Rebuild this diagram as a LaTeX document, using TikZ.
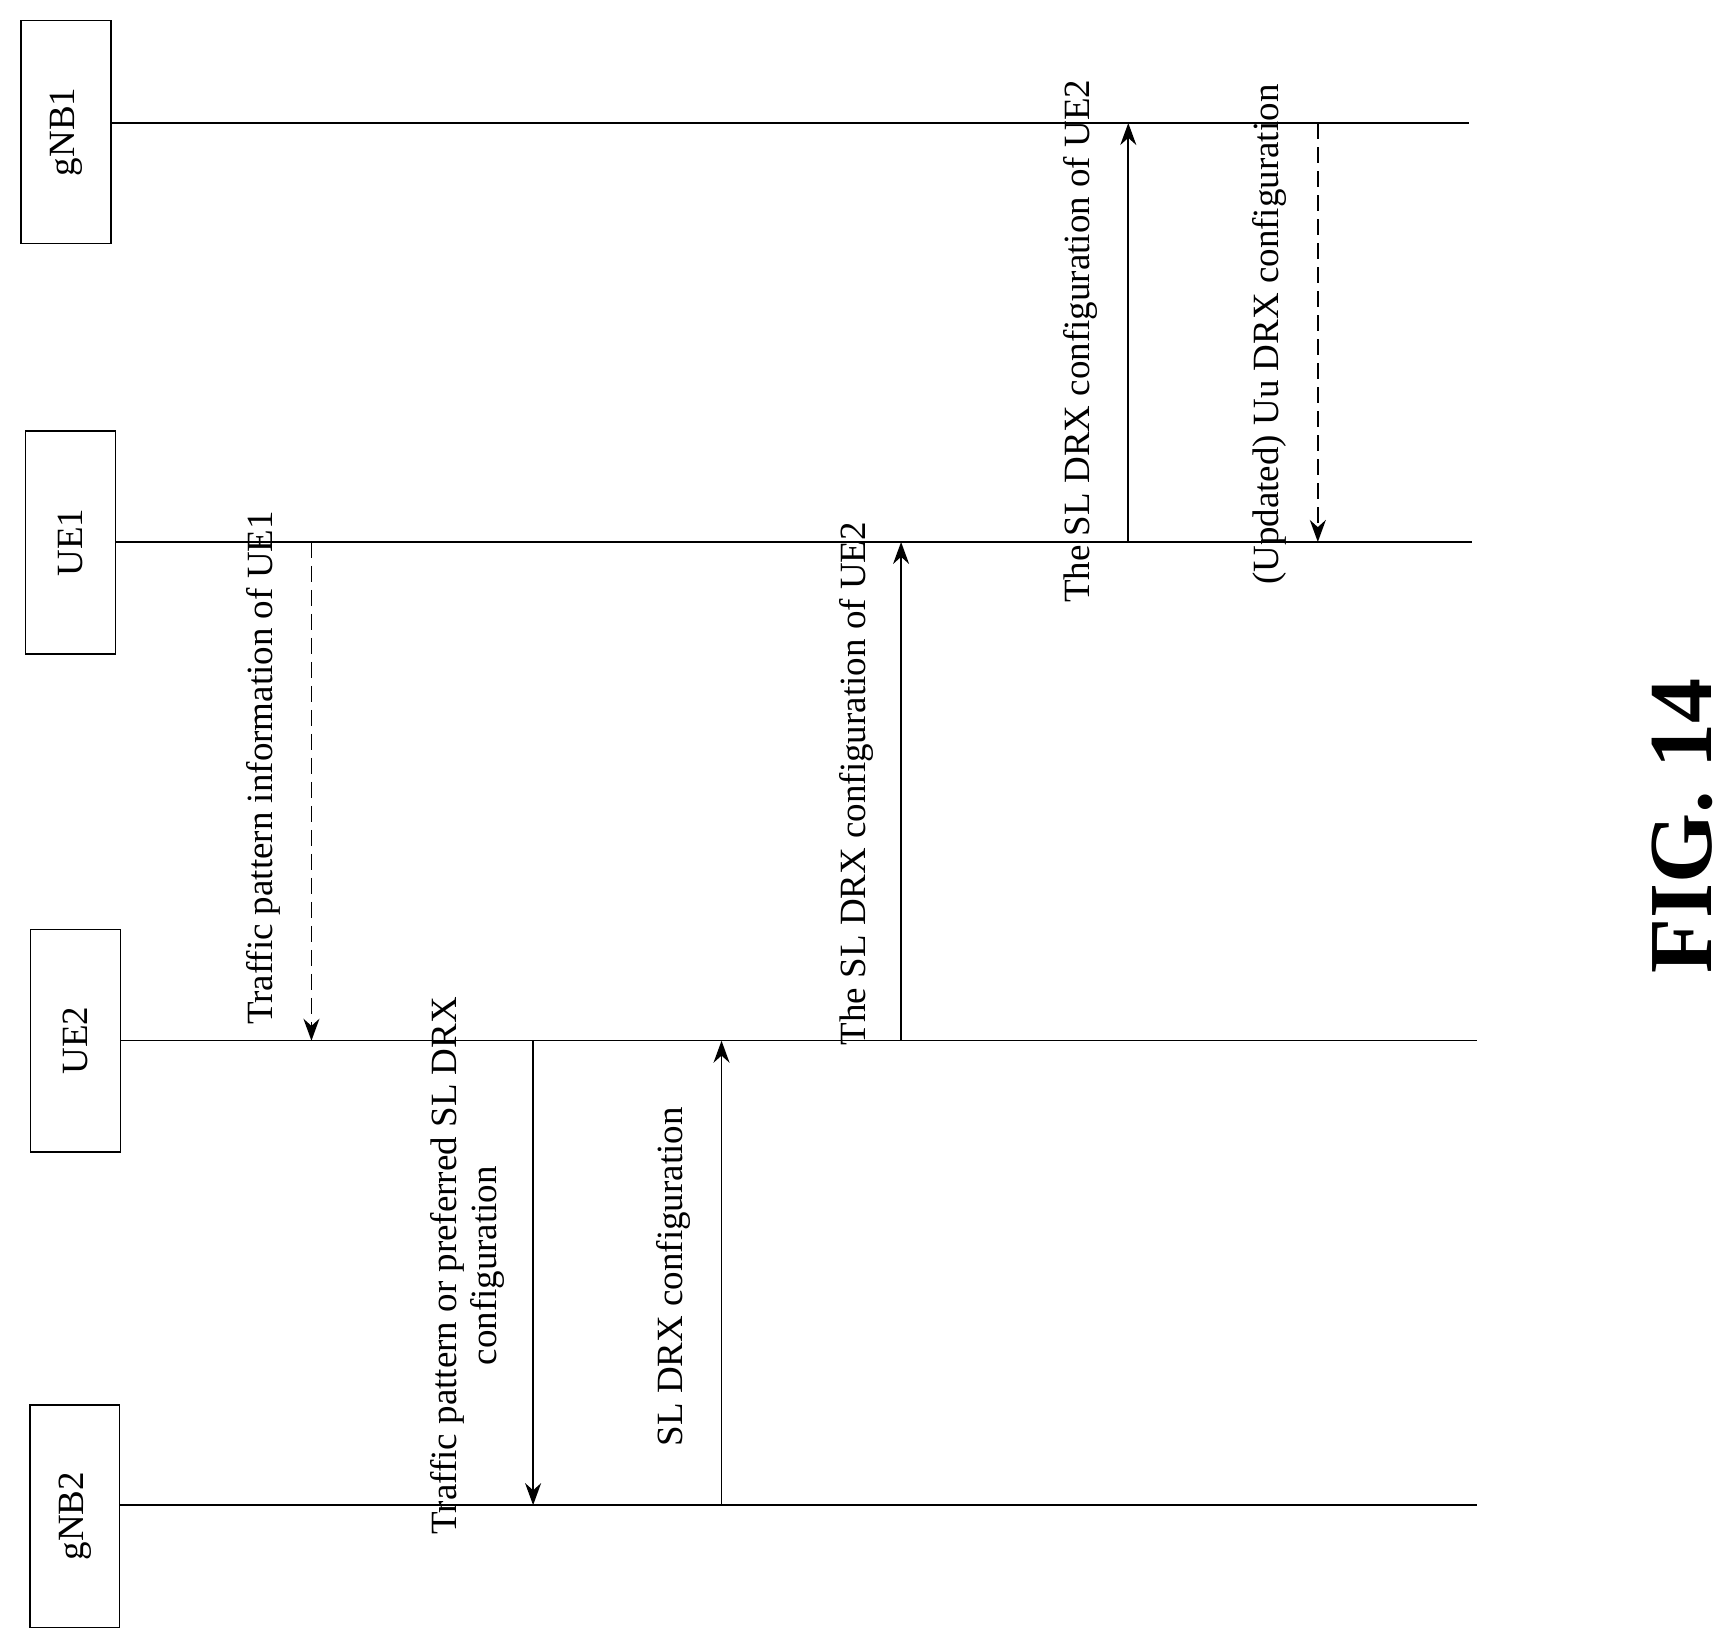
\documentclass[tikz,border=0pt]{standalone}
\usepackage{fontspec}
\setmainfont{Liberation Serif}
\usetikzlibrary{arrows.meta}
\begin{document}
\begin{tikzpicture}[x=1.1083pt,y=-1.1083pt,
  ent/.style={draw,line width=1.5pt,minimum width=81*1.1083pt,minimum height=201*1.1083pt,inner sep=0pt},
  lbl/.style={rotate=90,font=\fontsize{37}{40}\selectfont,align=center,inner sep=0pt},
  life/.style={line width=1.5pt},
  msg/.style={line width=1.8pt,-{Stealth[length=22pt,width=16pt]}},
  dmsg/.style={msg,dash pattern=on 16pt off 8pt}]
\useasboundingbox[fill=white] (0,0) rectangle (1560,1482);
\node[ent] (g1) at (59.5,119) {}; \node[lbl] at (g1) {gNB1};
\node[ent] (u1) at (63.5,489.5) {}; \node[lbl] at (u1) {UE1};
\node[ent] (u2) at (68,939) {}; \node[lbl] at (u2) {UE2};
\node[ent] (g2) at (67.5,1368) {}; \node[lbl] at (g2) {gNB2};
\coordinate (g1e) at (1325,111); \coordinate (u1e) at (1328,489);
\coordinate (u2e) at (1333,939); \coordinate (g2e) at (1333,1358);
\draw[life] (g1.east|-g1e) -- (g1e);
\draw[life] (u1.east|-u1e) -- (u1e);
\draw[life] (u2.east|-u2e) -- (u2e);
\draw[life] (g2.east|-g2e) -- (g2e);
\coordinate (a1) at (281,489); \coordinate (b1) at (281,939);
\draw[dmsg] (a1) -- (b1);
\node[lbl] at (238,693) {Traffic pattern information of UE1};
\coordinate (a2) at (481,939); \coordinate (b2) at (481,1358);
\draw[msg] (a2) -- (b2);
\node[lbl] at (422,1142) {Traffic pattern or preferred SL DRX\\configuration};
\coordinate (a3) at (651,1358); \coordinate (b3) at (651,939);
\draw[msg] (a3) -- (b3);
\node[lbl] at (608,1152) {SL DRX configuration};
\coordinate (a4) at (813,939); \coordinate (b4) at (813,489);
\draw[msg] (a4) -- (b4);
\node[lbl] at (773,707) {The SL DRX configuration of UE2};
\coordinate (a5) at (1018,489); \coordinate (b5) at (1018,111);
\draw[msg] (a5) -- (b5);
\node[lbl] at (975,308) {The SL DRX configuration of UE2};
\coordinate (a6) at (1189,111); \coordinate (b6) at (1189,489);
\draw[dmsg] (a6) -- (b6);
\node[lbl] at (1145,302) {(Updated) Uu DRX configuration};
\node[rotate=90,font=\fontsize{90}{96}\selectfont\bfseries] at (1518,745) {FIG. 14};
\end{tikzpicture}
\end{document}
